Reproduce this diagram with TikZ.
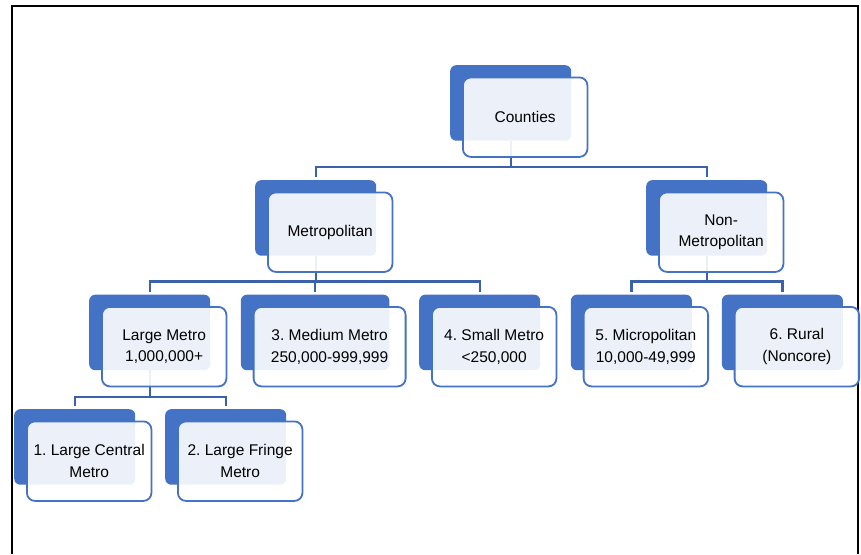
\documentclass[tikz,border=0pt]{standalone}
\usepackage{fontspec}
\setmainfont{Liberation Sans}
\frenchspacing
\definecolor{acc}{HTML}{4472C4}
\definecolor{connc}{HTML}{3A61AA}
\tikzset{
  backbox/.style={fill=acc, rounded corners=6pt, minimum width=121pt, minimum height=75.5pt, inner sep=0pt, anchor=north west},
  frontbox/.style={draw=acc, line width=1.8pt, fill=white, fill opacity=0.9, text opacity=1, rounded corners=8pt, minimum width=124.5pt, minimum height=79.5pt, inner sep=0pt, anchor=north west, align=center, font=\fontsize{15.5}{21.5}\selectfont},
  connector/.style={draw=connc, line width=2.3pt, shorten >=3pt},
  frameline/.style={draw=black, line width=2pt},
}
\begin{document}
\begin{tikzpicture}[x=1pt,y=-1pt]
\useasboundingbox (0,0) rectangle (861,554);
% frame
\coordinate (f1) at (12,554);
\coordinate (f2) at (12,6);
\coordinate (f3) at (858,6);
\coordinate (f4) at (858,554);
\draw[frameline] (f1) -- (f2) -- (f3) -- (f4);
% back boxes
\node[backbox] (cb) at (450,65) {};
\node[backbox] (mb) at (255,180) {};
\node[backbox] (nb) at (646,180) {};
\node[backbox] (lb) at (89,294.5) {};
\node[backbox, minimum width=148.5pt] (db) at (240.7,294.5) {};
\node[backbox] (sb) at (419,294.5) {};
\node[backbox] (pb) at (570.7,294.5) {};
\node[backbox] (rb) at (721.7,294.5) {};
\node[backbox] (lcb) at (14,409) {};
\node[backbox] (lfb) at (165,409) {};
% bus coordinates
\coordinate (bus1) at (0,166.7);
\coordinate (bus2) at (0,281.5);
\coordinate (bus3) at (0,396.7);
% connectors
\draw[connector] (cb.south) -- (cb.south |- bus1) -| (mb.north);
\draw[connector] (cb.south) -- (cb.south |- bus1) -| (nb.north);
\draw[connector] (mb.south) -- (mb.south |- bus2) -| (lb.north);
\draw[connector] (mb.south) -- (mb.south |- bus2) -| (db.north);
\draw[connector] (mb.south) -- (mb.south |- bus2) -| (sb.north);
\draw[connector] (nb.south) -- (nb.south |- bus2) -| (pb.north);
\draw[connector] (nb.south) -- (nb.south |- bus2) -| (rb.north);
\draw[connector] (lb.south) -- (lb.south |- bus3) -| (lcb.north);
\draw[connector] (lb.south) -- (lb.south |- bus3) -| (lfb.north);
% front boxes
\node[frontbox] (c) at (462,76.5) {Counties};
\node[frontbox] (m) at (267,191.5) {Metropolitan};
\node[frontbox] (n) at (658,191.5) {Non-\\Metropolitan};
\node[frontbox] (l) at (101,306) {Large Metro\\1,000,000+};
\node[frontbox, minimum width=152pt] (d) at (252.7,306) {3. Medium Metro\\250,000-999,999};
\node[frontbox] (s) at (431,306) {4. Small Metro\\<250,000};
\node[frontbox] (p) at (582.7,306) {5. Micropolitan\\10,000-49,999};
\node[frontbox] (r) at (733.7,306) {6. Rural\\(Noncore)};
\node[frontbox] (lc) at (26,420.5) {1. Large Central\\Metro};
\node[frontbox] (lf) at (177,420.5) {2. Large Fringe\\Metro};
\end{tikzpicture}
\end{document}
